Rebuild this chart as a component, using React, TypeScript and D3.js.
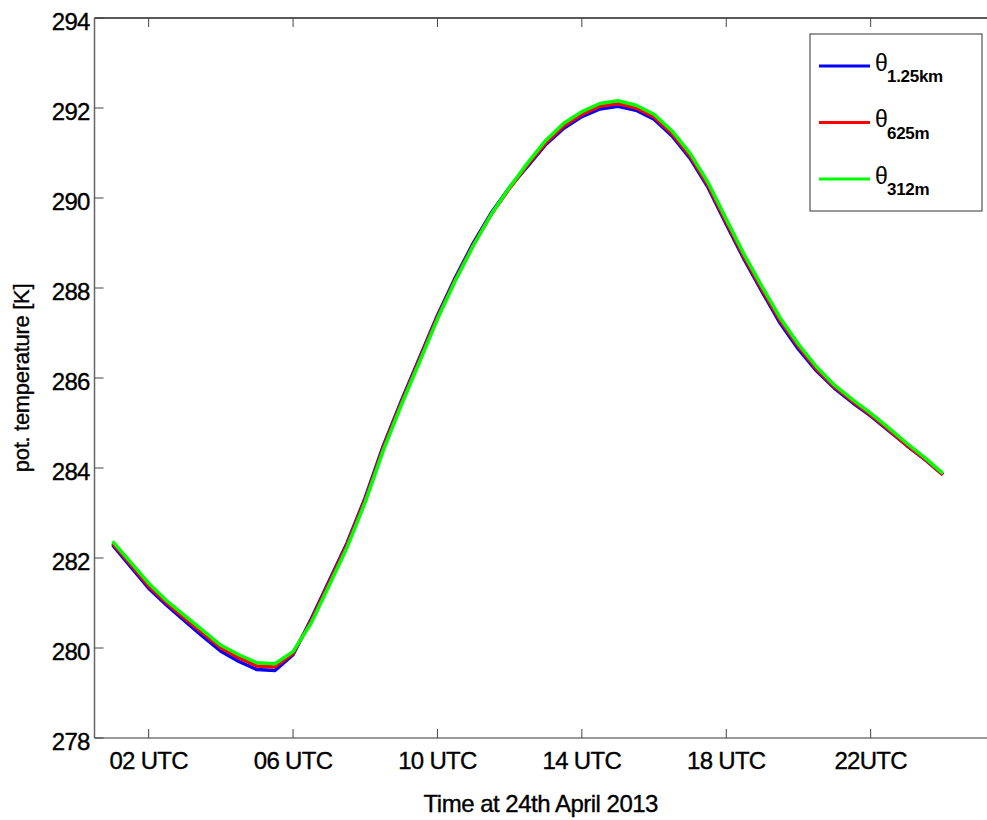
import React from "react";
import * as d3 from "d3";

// Half-hourly output times (UTC hours)
const hours = [1, 1.5, 2, 2.5, 3, 3.5, 4, 4.5, 5, 5.5, 6, 6.5, 7, 7.5, 8, 8.5, 9, 9.5, 10, 10.5, 11, 11.5, 12, 12.5, 13, 13.5, 14, 14.5, 15, 15.5, 16, 16.5, 17, 17.5, 18, 18.5, 19, 19.5, 20, 20.5, 21, 21.5, 22, 22.5, 23, 23.5, 24];

// Potential temperature [K] at three grid resolutions
const theta125km = [282.29, 281.81, 281.33, 280.95, 280.60, 280.26, 279.93, 279.70, 279.52, 279.50, 279.85, 280.64, 281.49, 282.34, 283.34, 284.49, 285.49, 286.44, 287.39, 288.24, 289.01, 289.68, 290.24, 290.71, 291.19, 291.55, 291.81, 291.98, 292.04, 291.95, 291.75, 291.38, 290.88, 290.23, 289.42, 288.63, 287.91, 287.21, 286.64, 286.16, 285.77, 285.45, 285.16, 284.83, 284.50, 284.19, 283.85];
const theta625m = [282.33, 281.86, 281.38, 281.00, 280.66, 280.33, 280.00, 279.78, 279.60, 279.58, 279.88, 280.60, 281.45, 282.30, 283.30, 284.45, 285.45, 286.40, 287.35, 288.20, 288.97, 289.65, 290.22, 290.74, 291.22, 291.60, 291.86, 292.04, 292.10, 292.00, 291.80, 291.43, 290.93, 290.28, 289.47, 288.68, 287.96, 287.27, 286.70, 286.20, 285.80, 285.48, 285.18, 284.85, 284.51, 284.20, 283.85];
const theta312m = [282.37, 281.91, 281.44, 281.05, 280.72, 280.39, 280.06, 279.85, 279.67, 279.65, 279.92, 280.55, 281.39, 282.24, 283.24, 284.39, 285.40, 286.35, 287.31, 288.17, 288.95, 289.65, 290.24, 290.78, 291.28, 291.66, 291.92, 292.10, 292.16, 292.06, 291.86, 291.49, 290.99, 290.34, 289.53, 288.74, 288.02, 287.33, 286.75, 286.25, 285.84, 285.52, 285.22, 284.89, 284.55, 284.23, 283.88];

const seriesNames = ["1.25km", "625m", "312m"];
const seriesColors = ["#0000ff", "#ff0000", "#00ff00"];

const xTicks = [2, 6, 10, 14, 18, 22];
const xTickLabels = ["02 UTC", "06 UTC", "10 UTC", "14 UTC", "18 UTC", "22UTC"];
const yTicks = [278, 280, 282, 284, 286, 288, 290, 292, 294];

const W = 987;
const H = 820;
const FONT = "'Liberation Sans', Arial, Helvetica, sans-serif";

export default function App() {
  const x = d3.scaleLinear().domain([0.5, 25.5]).range([94.5, 997]);
  const y = d3.scaleLinear().domain([278, 294]).range([738, 18]);

  const allSeries = [theta125km, theta625m, theta312m];
  const line = d3
    .line<[number, number]>()
    .x((d) => x(d[0]))
    .y((d) => y(d[1]));

  const left = x.range()[0];
  const right = W;
  const top = y.range()[1];
  const bottom = y.range()[0];

  const legendX = 810;
  const legendY = 34;
  const legendRowYs = [66, 122.5, 179];

  const labelStyle = { stroke: "#000", strokeWidth: 0.35 };

  return (
    <svg
      width={W}
      height={H}
      style={{ position: "absolute", left: 0, top: 0, background: "#fff" }}
      fontFamily={FONT}
    >
      <rect x={0} y={0} width={W} height={H} fill="#fff" />

      {/* data lines */}
      {allSeries.map((vals, i) => (
        <path
          key={seriesNames[i]}
          d={line(hours.map((h, j) => [h, vals[j]] as [number, number])) || ""}
          fill="none"
          stroke={seriesColors[i]}
          strokeWidth={3.5}
          strokeLinejoin="round"
        />
      ))}

      {/* axes frame */}
      <line x1={left} x2={right} y1={top} y2={top} stroke="#222" strokeWidth={1.3} />
      <line x1={left} x2={right} y1={bottom} y2={bottom} stroke="#777" strokeWidth={1.5} />
      <line x1={left} x2={left} y1={top} y2={bottom} stroke="#666" strokeWidth={1.5} />

      {/* x ticks */}
      {xTicks.map((t, i) => (
        <g key={t}>
          <line x1={x(t)} x2={x(t)} y1={bottom} y2={bottom - 9} stroke="#444" strokeWidth={1} />
          <line x1={x(t)} x2={x(t)} y1={top} y2={top + 9} stroke="#444" strokeWidth={1} />
          <text
            x={x(t)}
            y={bottom + 31}
            textAnchor="middle"
            fontSize={24}
            letterSpacing={-0.7}
            fill="#000"
            {...labelStyle}
          >
            {xTickLabels[i]}
          </text>
        </g>
      ))}

      {/* y ticks */}
      {yTicks.map((t) => (
        <g key={t}>
          <line x1={left} x2={left + 9} y1={y(t)} y2={y(t)} stroke="#444" strokeWidth={1} />
          <text
            x={left - 5}
            y={y(t) + 11.5}
            textAnchor="end"
            fontSize={24}
            letterSpacing={-0.8}
            fill="#000"
            {...labelStyle}
          >
            {t}
          </text>
        </g>
      ))}

      {/* axis titles */}
      <text
        x={(left + right) / 2}
        y={812}
        textAnchor="middle"
        fontSize={24}
        letterSpacing={-0.5}
        fill="#000"
        {...labelStyle}
      >
        Time at 24th April 2013
      </text>
      <text
        transform={`translate(29, ${(top + bottom) / 2}) rotate(-90)`}
        textAnchor="middle"
        fontSize={22}
        letterSpacing={-0.3}
        fill="#000"
        {...labelStyle}
      >
        pot. temperature [K]
      </text>

      {/* legend */}
      <rect
        x={legendX}
        y={legendY}
        width={172}
        height={177}
        fill="#fff"
        stroke="#333"
        strokeWidth={1}
      />
      {seriesNames.map((name, i) => (
        <g key={name}>
          <line
            x1={819}
            x2={870}
            y1={legendRowYs[i]}
            y2={legendRowYs[i]}
            stroke={seriesColors[i]}
            strokeWidth={3}
          />
          <text x={875} y={legendRowYs[i] + 4.5} fontSize={23} fill="#000">
            θ
          </text>
          <text
            x={887}
            y={legendRowYs[i] + 16}
            fontSize={17}
            fontWeight="bold"
            letterSpacing={-0.3}
            fill="#000"
          >
            {name}
          </text>
        </g>
      ))}
    </svg>
  );
}
